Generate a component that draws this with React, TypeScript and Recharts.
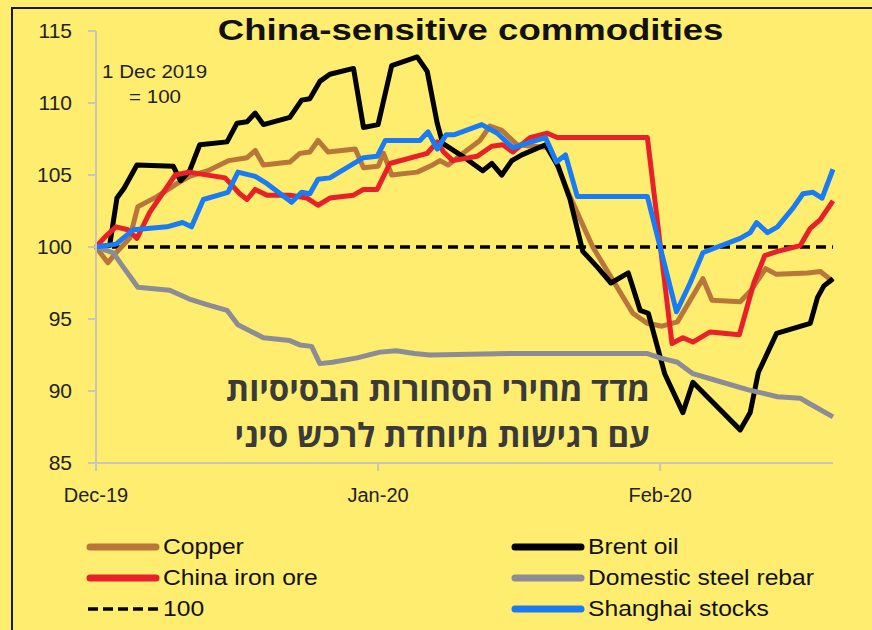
import { CartesianGrid, Line, LineChart, ReferenceLine, XAxis, YAxis } from 'recharts';

// days since 1 Dec 2019, index value (1 Dec 2019 = 100)
const copper: [number, number][] = [
  [0, 100], [1.3, 98.9], [2.2, 99.6], [3.7, 100.6], [4.6, 102.8], [6.7, 103.5], [8.9, 104.4],
  [10.3, 104.9], [12.3, 105.3], [14.6, 106.0], [16.6, 106.2], [17.5, 106.7], [18.4, 105.7],
  [21.3, 105.9], [22.4, 106.5], [23.5, 106.6], [24.4, 107.4], [25.5, 106.6], [28.5, 106.8],
  [29.4, 105.5], [31.0, 105.6], [31.6, 106.5], [32.5, 105.0], [35.3, 105.2], [37.0, 105.7],
  [37.8, 106.0], [38.7, 105.7], [40.3, 106.5], [42.2, 107.4], [43.3, 108.4], [44.6, 108.1],
  [46.3, 107.1], [49.9, 106.9], [52.1, 103.5], [54.6, 100.0], [56.8, 97.7], [59.0, 95.4],
  [60.6, 94.7], [62.2, 94.5], [63.9, 94.8], [66.7, 97.8], [67.7, 96.3], [70.8, 96.2],
  [72.0, 97.0], [73.6, 98.5], [74.8, 98.1], [78.2, 98.2], [79.6, 98.3], [81, 97.6],
];

const brentOil: [number, number][] = [
  [0, 100], [1.5, 100.1], [2.3, 103.4], [3.1, 104.1], [4.5, 105.7], [8.5, 105.6], [9.3, 104.6],
  [10.3, 105.3], [11.4, 107.1], [14.4, 107.3], [15.5, 108.6], [16.6, 108.7], [17.5, 109.3],
  [18.4, 108.5], [21.3, 109.0], [22.6, 110.2], [23.5, 110.3], [24.6, 111.5], [25.7, 112.0],
  [28.3, 112.4], [29.4, 108.3], [31.0, 108.5], [32.5, 112.6], [35.3, 113.2], [36.4, 112.2],
  [37.5, 108.6], [38.1, 107.2], [40.3, 106.3], [42.5, 105.3], [43.5, 105.8], [44.6, 105.0],
  [45.7, 106.0], [46.8, 106.4], [49.4, 107.1], [50.8, 105.6], [52.1, 103.3], [53.5, 99.7],
  [55.1, 98.6], [56.6, 97.5], [58.5, 98.2], [59.8, 95.6], [60.7, 95.4], [62.5, 91.2],
  [64.5, 88.5], [65.6, 90.6], [70.8, 87.3], [71.9, 88.5], [72.8, 91.3], [74.8, 94.0],
  [78.5, 94.7], [79.3, 96.5], [80.0, 97.3], [81, 97.8],
];

const chinaIronOre: [number, number][] = [
  [0, 100], [1.0, 100.7], [2.2, 101.4], [3.5, 101.2], [4.5, 100.6], [5.9, 102.4], [7.4, 103.8],
  [8.7, 105.0], [10.2, 105.2], [14.2, 104.8], [15.8, 103.7], [16.6, 103.3], [17.5, 104.0],
  [18.8, 103.6], [21.3, 103.6], [23.2, 103.4], [24.4, 102.9], [25.7, 103.4], [28.3, 103.6],
  [29.4, 104.0], [30.9, 104.0], [32.3, 105.8], [36.4, 106.5], [37.5, 107.3], [38.2, 106.6],
  [39.2, 106.0], [41.9, 106.3], [43.5, 107.0], [44.7, 107.1], [45.8, 106.6], [47.7, 107.6],
  [49.6, 107.9], [50.7, 107.6], [60.6, 107.6], [63.3, 93.3], [64.5, 93.7], [65.6, 93.4],
  [67.5, 94.1], [70.7, 93.9], [72.3, 97.5], [73.5, 99.4], [74.9, 99.7], [77.4, 100.1],
  [78.5, 101.3], [79.6, 101.9], [81, 103.2],
];

const steelRebar: [number, number][] = [
  [0, 100], [1.9, 99.6], [3.0, 98.6], [4.6, 97.2], [8.1, 97.0], [10.2, 96.4], [12.2, 96.0],
  [14.4, 95.6], [15.6, 94.6], [18.4, 93.7], [21.3, 93.5], [22.4, 93.2], [23.7, 93.1],
  [24.6, 91.9], [26.0, 92.0], [28.7, 92.3], [31.2, 92.7], [33.0, 92.8], [35.0, 92.6],
  [36.7, 92.5], [45.5, 92.6], [60.6, 92.6], [62.0, 92.3], [63.9, 92.0], [65.6, 91.2],
  [67.8, 90.8], [71.6, 90.1], [74.9, 89.6], [77.4, 89.5], [78.2, 89.2], [81, 88.2],
];

const shanghai: [number, number][] = [
  [0, 100], [2.2, 100.2], [4.1, 101.2], [7.8, 101.4], [9.5, 101.7], [10.5, 101.4], [11.8, 103.3],
  [14.5, 103.8], [15.6, 105.2], [17.5, 104.9], [18.8, 104.4], [21.5, 103.1], [22.6, 103.8],
  [23.5, 103.7], [24.4, 104.7], [25.7, 104.8], [29.4, 106.2], [30.9, 106.3], [31.8, 107.4],
  [35.6, 107.4], [36.5, 108.0], [37.5, 106.8], [38.5, 107.8], [39.4, 107.8], [42.4, 108.5],
  [44.1, 107.9], [45.8, 106.9], [49.4, 107.6], [50.6, 105.9], [51.6, 106.4], [52.9, 103.5],
  [60.6, 103.5], [63.8, 95.5], [65.3, 97.5], [66.7, 99.6], [68.3, 100.0], [70.8, 100.6],
  [71.9, 101.0], [72.6, 101.7], [73.8, 101.0], [74.9, 101.4], [76.6, 102.7], [77.7, 103.7],
  [78.8, 103.8], [79.8, 103.4], [81, 105.4],
];

const monthTicks = [0, 31, 62];
const monthLabels = ['Dec-19', 'Jan-20', 'Feb-20'];
const yTicks = [85, 90, 95, 100, 105, 110, 115];

const series = [
  { name: 'Copper', data: copper, color: '#B9763A' },
  { name: 'Brent oil', data: brentOil, color: '#000000' },
  { name: 'China iron ore', data: chinaIronOre, color: '#E8202A' },
  { name: 'Domestic steel rebar', data: steelRebar, color: '#8C8C96' },
  { name: 'Shanghai stocks', data: shanghai, color: '#1A7CF5' },
];

const BG = '#FEED6F';
const FONT = '"Liberation Sans", Arial, sans-serif';

const toPoints = (pts: [number, number][]) => pts.map(([day, v]) => ({ day, v }));

function LegendItem({ x, y, label, color, dashed }: { x: number; y: number; label: string; color: string; dashed?: boolean }) {
  return (
    <div style={{ position: 'absolute', left: x, top: y - 14, height: 28, display: 'flex', alignItems: 'center' }}>
      <svg width={74} height={12}>
        {dashed ? (
          <line x1={2} y1={6} x2={72} y2={6} stroke={color} strokeWidth={3.5} strokeDasharray="10 5" />
        ) : (
          <line x1={4} y1={6} x2={70} y2={6} stroke={color} strokeWidth={7} strokeLinecap="round" />
        )}
      </svg>
      <span style={{ fontSize: 22, color: '#111', display: 'inline-block', transform: 'scaleX(1.12)', transformOrigin: 'left center', marginLeft: 3, whiteSpace: 'nowrap' }}>
        {label}
      </span>
    </div>
  );
}

export default function App() {
  return (
    <div style={{ position: 'absolute', left: 0, top: 0, width: 872, height: 630, background: BG, overflow: 'hidden', fontFamily: FONT }}>
      <div style={{ position: 'absolute', left: 11, top: 7, width: 900, height: 700, borderTop: '2px solid #1a1a1a', borderLeft: '2px solid #1a1a1a' }} />
      <LineChart width={872} height={630} data={toPoints(copper)} margin={{ top: 31, right: 39, bottom: 127, left: 0 }} style={{ position: 'absolute', left: 0, top: 0 }}>
        <CartesianGrid vertical={false} horizontal={false} />
        <XAxis
          dataKey="day"
          type="number"
          domain={[0, 81]}
          ticks={monthTicks}
          height={40}
          stroke="#C9C6B4"
          strokeWidth={2}
          tickSize={8}
          tickMargin={17}
          tickFormatter={(d: number) => monthLabels[monthTicks.indexOf(d)]}
          tick={{ fill: '#222', fontSize: 20, fontFamily: FONT }}
        />
        <YAxis
          type="number"
          domain={[85, 115]}
          ticks={yTicks}
          width={96}
          stroke="#C9C6B4"
          strokeWidth={2}
          tickSize={8}
          tickMargin={16}
          tick={{ fill: '#222', fontSize: 21, fontFamily: FONT }}
        />
        <ReferenceLine y={100} stroke="#000" strokeWidth={3.5} strokeDasharray="10 6" />
        {series.map((s) => (
          <Line
            key={s.name}
            data={toPoints(s.data)}
            dataKey="v"
            type="linear"
            stroke={s.color}
            strokeWidth={5}
            strokeLinejoin="round"
            dot={false}
            activeDot={false}
            isAnimationActive={false}
          />
        ))}
      </LineChart>

      <div style={{ position: 'absolute', left: 0, width: 942, top: 14, textAlign: 'center', fontSize: 29, fontWeight: 'bold', color: '#111' }}>
        <span style={{ display: 'inline-block', transform: 'scaleX(1.26)' }}>China-sensitive commodities</span>
      </div>

      <div style={{ position: 'absolute', left: 98, top: 59, width: 114, textAlign: 'center', fontSize: 19, lineHeight: '25px', color: '#222' }}>
        <span style={{ display: 'inline-block', transform: 'scaleX(1.08)' }}>1 Dec 2019</span>
        <br />
        <span style={{ display: 'inline-block', transform: 'scaleX(1.08)' }}>= 100</span>
      </div>

      <div dir="rtl" style={{ position: 'absolute', right: 872 - 650, top: 366, width: 480, textAlign: 'right', fontFamily: '"Open Sans", "DejaVu Sans", sans-serif', fontWeight: 'bold', fontSize: 33, lineHeight: '46px', color: '#3a3a3a' }}>
        <div>מדד מחירי הסחורות הבסיסיות</div>
        <div>עם רגישות מיוחדת לרכש סיני</div>
      </div>

      <LegendItem x={86} y={547} label="Copper" color={series[0].color} />
      <LegendItem x={86} y={578} label="China iron ore" color={series[2].color} />
      <LegendItem x={86} y={609} label="100" color="#000" dashed />
      <LegendItem x={511} y={547} label="Brent oil" color={series[1].color} />
      <LegendItem x={511} y={578} label="Domestic steel rebar" color={series[3].color} />
      <LegendItem x={511} y={609} label="Shanghai stocks" color={series[4].color} />
    </div>
  );
}
